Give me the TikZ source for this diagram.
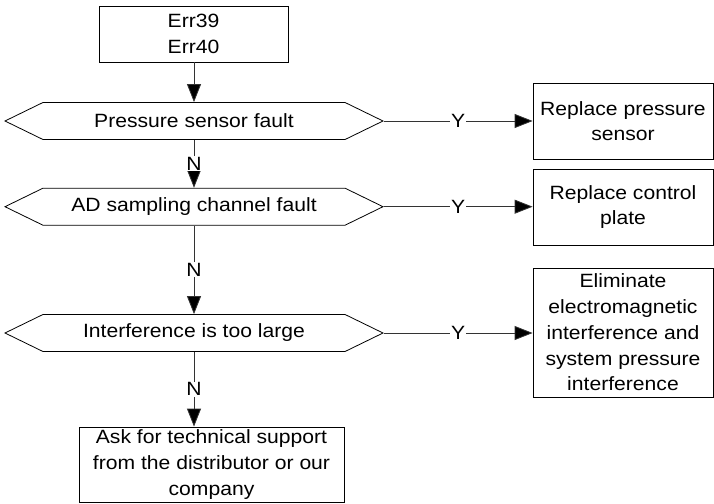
\documentclass[tikz,border=0pt]{standalone}
\usepackage{fontspec}
\setmainfont{Liberation Sans}[FakeStretch=1.1]
\usetikzlibrary{arrows.meta,shapes.symbols}
\tikzset{
  box/.style={draw, line width=0.8pt, align=center, inner sep=0pt, font=\fontsize{19.2}{25.7}\selectfont},
  hexa/.style={draw, line width=0.8pt, signal, signal to=west and east, signal pointer angle=52,
    minimum width=378pt, minimum height=37pt, inner sep=0pt, font=\fontsize{19.2}{25.7}\selectfont},
  conn/.style={line width=0.8pt, draw=black!80, -{Triangle[length=18pt,width=14pt,fill=black]}},
  lab/.style={fill=white, inner sep=1pt, font=\fontsize{19.2}{22}\selectfont}
}
\begin{document}
\begin{tikzpicture}[x=1pt,y=-1pt]
\useasboundingbox (0,0) rectangle (714,503);
\node[box, minimum width=189pt, minimum height=56pt] (start) at (193.5,34) {Err39\\Err40};
\node[hexa] (d1) at (194,121) {Pressure sensor fault};
\node[hexa] (d2) at (194,206.7) {AD sampling channel fault};
\node[hexa] (d3) at (194,333) {Interference is too large};
\node[box, minimum width=180pt, minimum height=76pt] (b1) at (623,121) {Replace pressure\\sensor};
\node[box, minimum width=180pt, minimum height=76pt] (b2) at (623,207) {Replace control\\plate};
\node[box, minimum width=180pt, minimum height=129pt] (b3) at (623,332.5) {Eliminate\\electromagnetic\\interference and\\system pressure\\interference};
\node[box, minimum width=265pt, minimum height=75pt] (b4) at (211.5,464.5) {Ask for technical support\\from the distributor or our\\company};

\draw[conn] (start.south -| d1.north) -- (d1.north);
\draw[conn] (d1.south) -- node[lab] {N} (d2.north);
\draw[conn] (d2.south) -- node[lab] {N} (d3.north);
\draw[conn] (d3.south) -- node[lab] {N} (d3.south |- b4.north);
\draw[conn] (d1.east) -- node[lab] {Y} (b1.west);
\draw[conn] (d2.east) -- node[lab] {Y} (d2.east -| b2.west);
\draw[conn] (d3.east) -- node[lab] {Y} (d3.east -| b3.west);
\end{tikzpicture}
\end{document}
